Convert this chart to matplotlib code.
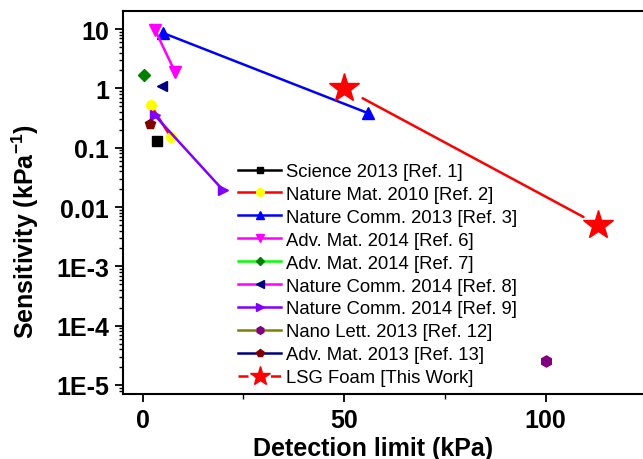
import matplotlib
matplotlib.use('Agg')
import matplotlib.pyplot as plt
from matplotlib.lines import Line2D
from matplotlib.ticker import FixedLocator, FixedFormatter, LogLocator, NullFormatter

plt.rcParams['font.family'] = ['Liberation Sans', 'DejaVu Sans']
plt.rcParams['mathtext.fontset'] = 'custom'
plt.rcParams['mathtext.rm'] = 'Liberation Sans'
plt.rcParams['mathtext.bf'] = 'Liberation Sans:bold'

# ---- data ----
labels = ['Science 2013 [Ref. 1]', 'Nature Mat. 2010 [Ref. 2]', 'Nature Comm. 2013 [Ref. 3]',
          'Adv. Mat. 2014 [Ref. 6]', 'Adv. Mat. 2014 [Ref. 7]', 'Nature Comm. 2014 [Ref. 8]',
          'Nature Comm. 2014 [Ref. 9]', 'Nano Lett. 2013 [Ref. 12]', 'Adv. Mat. 2013 [Ref. 13]',
          'LSG Foam [This Work]']
sci_x = [3.5];            sci_y = [0.13]
natmat_x = [2, 7];        natmat_y = [0.52, 0.15]
natcomm13_x = [5, 56];    natcomm13_y = [8.6, 0.38]
adv14a_x = [3, 8];        adv14a_y = [9.8, 1.9]
adv14b_x = [0.2];         adv14b_y = [1.7]
natcomm14a_x = [4.7];     natcomm14a_y = [1.1]
natcomm14b_x = [3, 20];   natcomm14b_y = [0.35, 0.019]
nano_x = [100];           nano_y = [2.5e-5]
adv13_x = [1.8];          adv13_y = [0.25]
lsg_x = [50, 113];        lsg_y = [1.0, 0.005]

ytick_vals = [1e-5, 1e-4, 1e-3, 0.01, 0.1, 1, 10]
ytick_labels = ['1E-5', '1E-4', '1E-3', '0.01', '0.1', '1', '10']
xtick_vals = [0, 50, 100]

series = [
    (sci_x, sci_y, 'black', 's', 'black', 6.7, 4.5),
    (natmat_x, natmat_y, 'red', 'o', 'yellow', 7, 5.5),
    (natcomm13_x, natcomm13_y, 'blue', '^', 'blue', 8, 5.5),
    (adv14a_x, adv14a_y, 'magenta', 'v', 'magenta', 8, 5.5),
    (adv14b_x, adv14b_y, '#00FF00', 'D', '#008000', 6, 4.5),
    (natcomm14a_x, natcomm14a_y, 'magenta', '<', '#000080', 7.5, 5.5),
    (natcomm14b_x, natcomm14b_y, '#8000FF', '>', '#8000FF', 7.5, 5.5),
    (nano_x, nano_y, '#808000', 'h', '#800080', 8, 5.5),
    (adv13_x, adv13_y, '#000080', 'p', '#800000', 7.5, 5.5),
]

fig = plt.figure(figsize=(6.43, 4.6), dpi=100)
W, H = 643, 460
ax_l, ax_r, ax_t, ax_b = 123, 646.5, 12.3, 395
ax = fig.add_axes([ax_l / W, 1 - ax_b / H, (ax_r - ax_l) / W, (ax_b - ax_t) / H])
axh = ax_b - ax_t
axw = ax_r - ax_l

handles = []
for (xs, ys, lc, mk, mc, ms, lms) in series:
    ax.plot(xs, ys, color=lc, lw=1.8, marker=mk, ms=ms, mfc=mc, mec=mc, zorder=3)
    handles.append(Line2D([], [], color=lc, lw=1.8, marker=mk, ms=lms, mfc=mc, mec=mc))

# LSG foam
ax.annotate('', xy=(lsg_x[1], lsg_y[1]), xytext=(lsg_x[0], lsg_y[0]),
            arrowprops=dict(arrowstyle='-', color='red', lw=1.8, shrinkA=15, shrinkB=12),
            zorder=4)
ax.plot(lsg_x, lsg_y, ls='none', marker='*', ms=22, mfc='red', mec='red', zorder=5)
handles.append(Line2D([], [], color='red', lw=1.8, ls=(0, (4, 2.5)), marker='*', ms=15,
                      mfc='red', mec='red'))

ax.set_yscale('log')
ax.set_xlim(-4.9, 125)
ax.set_ylim(7.05e-6, 19.9)

ax.yaxis.set_major_locator(FixedLocator(ytick_vals))
ax.yaxis.set_major_formatter(FixedFormatter(ytick_labels))
ax.yaxis.set_minor_locator(LogLocator(base=10, subs=[2, 3, 4, 5, 6, 7, 8, 9], numticks=20))
ax.yaxis.set_minor_formatter(NullFormatter())
ax.xaxis.set_major_locator(FixedLocator(xtick_vals))
ax.xaxis.set_minor_locator(FixedLocator([25, 75]))

for sp in ['left', 'bottom', 'top']:
    ax.spines[sp].set_linewidth(1.5)
ax.spines['right'].set_visible(False)

ax.tick_params(axis='both', which='major', direction='out', length=6, width=1.3,
               labelsize=18, pad=4)
ax.tick_params(axis='both', which='minor', direction='out', length=3.5, width=1.0)
ax.tick_params(axis='y', which='minor', length=3)
ax.tick_params(top=False, right=False, which='both')
for lab in ax.get_xticklabels() + ax.get_yticklabels():
    lab.set_fontweight('bold')

ax.set_xlabel('Detection limit (kPa)', fontsize=18, fontweight='bold')
ax.xaxis.set_label_coords((373 - ax_l) / axw, (ax_b - 449) / axh)
ax.set_ylabel(r'Sensitivity (kPa$^{\mathbf{-1}}$)', fontsize=18, fontweight='bold')
ax.yaxis.set_label_coords((25 - ax_l) / axw, 1 - (232 - ax_t) / axh)
ax.xaxis.label.set_va('center')
ax.yaxis.label.set_va('center')

leg = ax.legend(handles, labels, loc='upper left', bbox_to_anchor=(238 / W, 1 - 164 / H),
                bbox_transform=fig.transFigure, frameon=False, fontsize=13.3,
                handlelength=2.35, handletextpad=0.27, labelspacing=0.32,
                borderpad=0, borderaxespad=0)

fig.savefig('out.png', dpi=100)
